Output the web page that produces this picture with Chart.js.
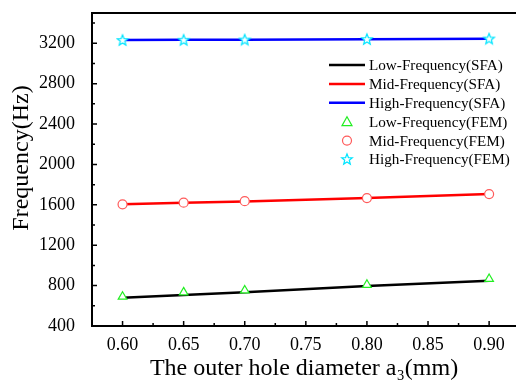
<!DOCTYPE html>
<html>
<head>
<meta charset="utf-8">
<script src="https://cdn.jsdelivr.net/npm/chart.js@4.4.1/dist/chart.umd.min.js"></script>
<style>
  html, body { margin: 0; padding: 0; background: #fff; }
</style>
</head>
<body>
<canvas id="chart" width="516" height="387"></canvas>
<script>
// data
const diameters = [0.60, 0.65, 0.70, 0.80, 0.90];
const lowSFA  = [680, 706, 734, 795, 848];
const midSFA  = [1607, 1620, 1634, 1667, 1708];
const highSFA = [3232, 3234, 3236, 3241, 3246];
const lowFEM  = [690, 733, 752, 808, 866];
const midFEM  = [1605, 1621, 1636, 1667, 1707];
const highFEM = [3233, 3235, 3237, 3242, 3247];

const xTicks = [0.60, 0.65, 0.70, 0.75, 0.80, 0.85, 0.90];
const yTicks = [400, 800, 1200, 1600, 2000, 2400, 2800, 3200];

const SERIF = '"Liberation Serif", "Times New Roman", serif';

function pts(ys) {
  return diameters.map((d, i) => ({ x: d, y: ys[i] }));
}

// hollow five-point star used for the high-frequency FEM markers
function starImage(color) {
  const c = document.createElement('canvas');
  c.width = c.height = 14;
  const g = c.getContext('2d');
  g.beginPath();
  for (let i = 0; i < 10; i++) {
    const r = i % 2 ? 2.4 : 5.6;
    const a = -Math.PI / 2 + i * Math.PI / 5;
    g.lineTo(7 + r * Math.cos(a), 7.5 + r * Math.sin(a));
  }
  g.closePath();
  g.fillStyle = '#fff';
  g.fill();
  g.strokeStyle = color;
  g.lineWidth = 1.2;
  g.stroke();
  return c;
}
const star = starImage('#00e5ff');

const datasets = [
  { label: 'Low-Frequency(SFA)', data: pts(lowSFA), borderColor: '#000', borderWidth: 2.5, pointRadius: 0, order: 1 },
  { label: 'Mid-Frequency(SFA)', data: pts(midSFA), borderColor: '#ff0000', borderWidth: 2.5, pointRadius: 0, order: 1 },
  { label: 'High-Frequency(SFA)', data: pts(highSFA), borderColor: '#0000ff', borderWidth: 2.5, pointRadius: 0, order: 1 },
  { label: 'Low-Frequency(FEM)', data: pts(lowFEM), showLine: false, pointStyle: 'triangle', pointRadius: 5,
    borderColor: '#22ee22', backgroundColor: '#fff', pointBorderWidth: 1.2, order: 0 },
  { label: 'Mid-Frequency(FEM)', data: pts(midFEM), showLine: false, pointStyle: 'circle', pointRadius: 4.5,
    borderColor: '#ff5a5a', backgroundColor: '#fff', pointBorderWidth: 1.2, order: 0 },
  { label: 'High-Frequency(FEM)', data: pts(highFEM), showLine: false, pointStyle: star, pointRadius: 6,
    borderColor: '#00e5ff', backgroundColor: '#fff', order: 0 }
];

// axis frame with inward major/minor ticks, plus the y title (sits a bit above centre)
const framePlugin = {
  id: 'frame',
  afterDatasetsDraw(chart) {
    const { ctx, chartArea: a, scales: { x, y } } = chart;
    ctx.save();
    ctx.strokeStyle = '#000';
    ctx.lineWidth = 2;
    ctx.beginPath();
    ctx.moveTo(a.right, a.top);
    ctx.lineTo(a.left, a.top);
    ctx.lineTo(a.left, a.bottom);
    ctx.lineTo(a.right, a.bottom);
    ctx.stroke();

    ctx.lineWidth = 1.5;
    ctx.beginPath();
    xTicks.forEach(v => {
      const px = x.getPixelForValue(v);
      ctx.moveTo(px, a.bottom); ctx.lineTo(px, a.bottom - 5);
      const m = x.getPixelForValue(v + 0.025);
      if (m < a.right) { ctx.moveTo(m, a.bottom); ctx.lineTo(m, a.bottom - 3); }
    });
    yTicks.forEach(v => {
      const py = y.getPixelForValue(v);
      ctx.moveTo(a.left, py); ctx.lineTo(a.left + 5, py);
      const m = y.getPixelForValue(v + 200);
      if (m > a.top) { ctx.moveTo(a.left, m); ctx.lineTo(a.left + 3, m); }
    });
    ctx.stroke();

    ctx.translate(22, 158);
    ctx.rotate(-Math.PI / 2);
    ctx.font = '24px ' + SERIF;
    ctx.fillStyle = '#000';
    ctx.textAlign = 'center';
    ctx.textBaseline = 'middle';
    ctx.fillText('Frequency(Hz)', 0, 0);
    ctx.restore();
  }
};

// legend inside the plot, top right
const legendPlugin = {
  id: 'inLegend',
  afterDraw(chart) {
    const ctx = chart.ctx;
    const x0 = 329, x1 = 365, tx = 369, y0 = 65, dy = 18.9;
    ctx.save();
    ctx.font = '15.2px ' + SERIF;
    ctx.textBaseline = 'middle';
    chart.data.datasets.forEach((ds, i) => {
      const yy = y0 + i * dy;
      const cx = (x0 + x1) / 2;
      if (ds.showLine !== false) {
        ctx.strokeStyle = ds.borderColor;
        ctx.lineWidth = 2.5;
        ctx.beginPath(); ctx.moveTo(x0, yy); ctx.lineTo(x1, yy); ctx.stroke();
      } else if (ds.pointStyle === 'triangle') {
        ctx.strokeStyle = ds.borderColor; ctx.lineWidth = 1.2;
        ctx.beginPath();
        ctx.moveTo(cx, yy - 5); ctx.lineTo(cx + 5, yy + 4); ctx.lineTo(cx - 5, yy + 4); ctx.closePath();
        ctx.stroke();
      } else if (ds.pointStyle === 'circle') {
        ctx.strokeStyle = ds.borderColor; ctx.lineWidth = 1.2;
        ctx.beginPath(); ctx.arc(cx, yy, 4.5, 0, Math.PI * 2); ctx.stroke();
      } else {
        ctx.drawImage(ds.pointStyle, cx - 7, yy - 7.5);
      }
      ctx.fillStyle = '#000';
      ctx.fillText(ds.label, tx, yy + 1);
    });
    ctx.restore();
  }
};

new Chart(document.getElementById('chart'), {
  type: 'line',
  data: { datasets },
  options: {
    responsive: false,
    animation: false,
    devicePixelRatio: 1,
    layout: { autoPadding: false, padding: { top: 13, right: 0, left: 0, bottom: 0 } },
    plugins: { legend: { display: false }, tooltip: { enabled: false } },
    scales: {
      x: {
        type: 'linear',
        min: 0.575,
        max: 0.922,
        grid: { display: false },
        border: { display: false },
        afterBuildTicks: s => { s.ticks = xTicks.map(v => ({ value: v })); },
        afterFit: s => { s.height = 61; s.paddingLeft = 0; s.paddingRight = 0; },
        ticks: {
          color: '#000',
          padding: 0,
          maxRotation: 0,
          font: { family: SERIF, size: 18 },
          callback: v => v.toFixed(2)
        },
        title: {
          display: true,
          text: 'The outer hole diameter a₃(mm)',
          color: '#000',
          font: { family: SERIF, size: 24 },
          padding: { top: 0, bottom: 4 }
        }
      },
      y: {
        min: 400,
        max: 3500,
        grid: { display: false },
        border: { display: false },
        afterBuildTicks: s => { s.ticks = yTicks.map(v => ({ value: v })); },
        afterFit: s => { s.width = 92; s.paddingTop = 0; s.paddingBottom = 0; },
        ticks: {
          color: '#000',
          padding: 9,
          font: { family: SERIF, size: 18 },
          callback: v => String(v)
        }
      }
    }
  },
  plugins: [framePlugin, legendPlugin]
});
</script>
</body>
</html>
